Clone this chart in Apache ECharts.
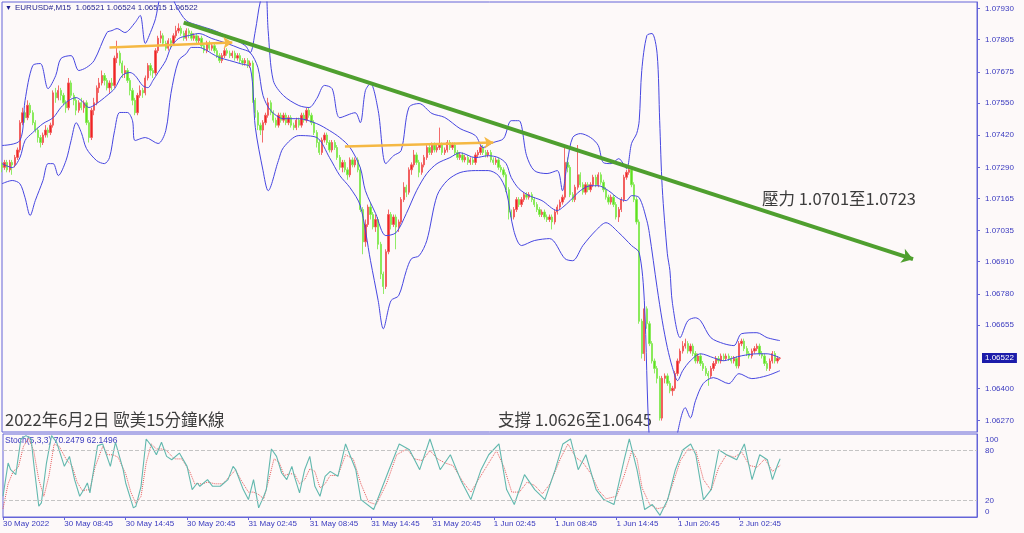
<!DOCTYPE html>
<html><head><meta charset="utf-8">
<script src="https://cdn.jsdelivr.net/npm/echarts/dist/echarts.min.js"></script>
<style>html,body{margin:0;padding:0;background:#fdf9f9}#c{width:1024px;height:533px}</style>
</head><body><div id="c"></div>
<script>
// ---------- data ----------
const symbolName = 'EURUSD#,M15';
const chartTitle = '2022年6月2日 歐美15分鐘K線';
const resistanceText = '壓力 1.0701至1.0723';
const supportText = '支撐 1.0626至1.0645';
const stochLabel = 'Stoch(5,3,3) 70.2479 62.1496';
const xTickLabels = ['30 May 2022','30 May 08:45','30 May 14:45','30 May 20:45','31 May 02:45','31 May 08:45','31 May 14:45','31 May 20:45','1 Jun 02:45','1 Jun 08:45','1 Jun 14:45','1 Jun 20:45','2 Jun 02:45'];
const yTickValues = [1.07930,1.07805,1.07675,1.07550,1.07420,1.07290,1.07165,1.07035,1.06910,1.06780,1.06655,1.06400,1.06270];
const lastPrice = 1.06522;
const stochTickValues = [100,80,20,0];
const stochLevels = [80,20];
// candles: [open, close, low, high]
const candles = [
[1.0730,1.0729,1.0727,1.0731],[1.0729,1.0731,1.0728,1.0732],[1.0731,1.0728,1.0727,1.0732],[1.0728,1.0731,1.0727,1.0732],[1.0731,1.0730,1.0726,1.0732],
[1.0730,1.0733,1.0729,1.0734],[1.0733,1.0736,1.0732,1.0737],[1.0736,1.0747,1.0735,1.0748],[1.0747,1.0751,1.0746,1.0753],[1.0751,1.0749,1.0747,1.0752],
[1.0749,1.0754,1.0748,1.0756],[1.0754,1.0751,1.0750,1.0755],[1.0751,1.0747,1.0746,1.0752],[1.0747,1.0744,1.0743,1.0748],[1.0744,1.0741,1.0739,1.0745],
[1.0741,1.0739,1.0737,1.0742],[1.0739,1.0742,1.0738,1.0743],[1.0742,1.0744,1.0741,1.0746],[1.0744,1.0743,1.0741,1.0745],[1.0743,1.0746,1.0742,1.0747],
[1.0746,1.0759,1.0745,1.0760],[1.0759,1.0757,1.0755,1.0761],[1.0757,1.0760,1.0756,1.0762],[1.0760,1.0758,1.0756,1.0761],[1.0758,1.0755,1.0754,1.0759],
[1.0755,1.0753,1.0751,1.0756],[1.0753,1.0763,1.0752,1.0765],[1.0763,1.0758,1.0757,1.0764],[1.0758,1.0756,1.0754,1.0759],[1.0756,1.0752,1.0750,1.0757],
[1.0752,1.0755,1.0751,1.0756],[1.0755,1.0753,1.0752,1.0757],[1.0753,1.0755,1.0751,1.0756],[1.0755,1.0747,1.0746,1.0756],[1.0747,1.0741,1.0739,1.0748],
[1.0741,1.0752,1.0740,1.0753],[1.0752,1.0755,1.0750,1.0757],[1.0755,1.0761,1.0754,1.0762],[1.0761,1.0763,1.0759,1.0765],[1.0763,1.0766,1.0762,1.0768],
[1.0766,1.0764,1.0762,1.0767],[1.0764,1.0761,1.0760,1.0765],[1.0761,1.0763,1.0759,1.0764],[1.0763,1.0762,1.0760,1.0765],[1.0762,1.0773,1.0761,1.0774],
[1.0773,1.0775,1.0771,1.0780],[1.0775,1.0771,1.0770,1.0776],[1.0771,1.0767,1.0765,1.0772],[1.0767,1.0768,1.0765,1.0770],[1.0768,1.0764,1.0763,1.0769],
[1.0764,1.0760,1.0758,1.0765],[1.0760,1.0756,1.0754,1.0761],[1.0756,1.0751,1.0750,1.0757],[1.0751,1.0758,1.0750,1.0759],[1.0758,1.0760,1.0757,1.0762],
[1.0760,1.0759,1.0757,1.0761],[1.0759,1.0765,1.0758,1.0766],[1.0765,1.0770,1.0764,1.0771],[1.0770,1.0768,1.0766,1.0771],[1.0768,1.0767,1.0765,1.0769],
[1.0767,1.0776,1.0766,1.0777],[1.0776,1.0781,1.0775,1.0782],[1.0781,1.0782,1.0779,1.0784],[1.0782,1.0779,1.0778,1.0783],[1.0779,1.0777,1.0776,1.0780],
[1.0777,1.0780,1.0776,1.0781],[1.0780,1.0779,1.0777,1.0781],[1.0779,1.0782,1.0778,1.0783],[1.0782,1.0784,1.0781,1.0786],[1.0784,1.0785,1.0783,1.0787],
[1.0785,1.0783,1.0782,1.0786],[1.0783,1.0781,1.0780,1.0784],[1.0781,1.0784,1.0780,1.0785],[1.0784,1.0783,1.0781,1.0785],[1.0783,1.0781,1.0780,1.0784],
[1.0781,1.0782,1.0780,1.0783],[1.0782,1.0780,1.0779,1.0783],[1.0780,1.0781,1.0779,1.0782],[1.0781,1.0778,1.0777,1.0782],[1.0778,1.0776,1.0775,1.0779],
[1.0776,1.0779,1.0775,1.0780],[1.0779,1.0777,1.0776,1.0780],[1.0777,1.0778,1.0776,1.0779],[1.0778,1.0776,1.0775,1.0779],[1.0776,1.0774,1.0773,1.0777],
[1.0774,1.0772,1.0771,1.0775],[1.0772,1.0774,1.0771,1.0775],[1.0774,1.0776,1.0773,1.0777],[1.0776,1.0775,1.0774,1.0777],[1.0775,1.0774,1.0773,1.0776],
[1.0774,1.0775,1.0773,1.0776],[1.0775,1.0773,1.0772,1.0776],[1.0773,1.0774,1.0772,1.0775],[1.0774,1.0772,1.0771,1.0775],[1.0772,1.0771,1.0770,1.0773],
[1.0771,1.0772,1.0770,1.0773],[1.0772,1.0770,1.0769,1.0773],[1.0770,1.0771,1.0769,1.0772],[1.0771,1.0756,1.0755,1.0772],[1.0756,1.0751,1.0749,1.0757],
[1.0751,1.0746,1.0744,1.0752],[1.0746,1.0744,1.0742,1.0747],[1.0744,1.0747,1.0739,1.0748],[1.0747,1.0750,1.0746,1.0751],[1.0750,1.0755,1.0749,1.0757],
[1.0755,1.0751,1.0750,1.0756],[1.0751,1.0748,1.0747,1.0752],[1.0748,1.0746,1.0745,1.0749],[1.0746,1.0750,1.0745,1.0751],[1.0750,1.0748,1.0747,1.0751],
[1.0748,1.0750,1.0747,1.0751],[1.0750,1.0747,1.0746,1.0751],[1.0747,1.0749,1.0746,1.0750],[1.0749,1.0746,1.0745,1.0750],[1.0746,1.0745,1.0744,1.0747],
[1.0745,1.0748,1.0744,1.0749],[1.0748,1.0746,1.0745,1.0749],[1.0746,1.0750,1.0745,1.0751],[1.0750,1.0748,1.0747,1.0751],[1.0748,1.0752,1.0747,1.0753],
[1.0752,1.0750,1.0749,1.0753],[1.0750,1.0747,1.0746,1.0751],[1.0747,1.0743,1.0742,1.0748],[1.0743,1.0739,1.0737,1.0744],[1.0739,1.0735,1.0734,1.0740],
[1.0735,1.0740,1.0734,1.0741],[1.0740,1.0742,1.0739,1.0743],[1.0742,1.0739,1.0738,1.0743],[1.0739,1.0736,1.0735,1.0740],[1.0736,1.0739,1.0735,1.0740],
[1.0739,1.0737,1.0736,1.0740],[1.0737,1.0733,1.0732,1.0738],[1.0733,1.0729,1.0728,1.0734],[1.0729,1.0731,1.0727,1.0732],[1.0731,1.0728,1.0727,1.0732],
[1.0728,1.0726,1.0724,1.0729],[1.0726,1.0732,1.0725,1.0733],[1.0732,1.0730,1.0729,1.0733],[1.0730,1.0732,1.0729,1.0733],[1.0732,1.0728,1.0727,1.0733],
[1.0728,1.0712,1.0711,1.0729],[1.0712,1.0699,1.0694,1.0713],[1.0699,1.0706,1.0697,1.0708],[1.0706,1.0713,1.0705,1.0714],[1.0713,1.0710,1.0708,1.0715],
[1.0710,1.0705,1.0704,1.0711],[1.0705,1.0708,1.0703,1.0710],[1.0708,1.0698,1.0696,1.0709],[1.0698,1.0686,1.0684,1.0699],[1.0686,1.0681,1.0678,1.0687],
[1.0681,1.0695,1.0680,1.0696],[1.0695,1.0710,1.0694,1.0712],[1.0710,1.0706,1.0704,1.0711],[1.0706,1.0709,1.0705,1.0710],[1.0709,1.0705,1.0696,1.0710],
[1.0705,1.0707,1.0703,1.0708],[1.0707,1.0716,1.0706,1.0717],[1.0716,1.0721,1.0715,1.0723],[1.0721,1.0719,1.0717,1.0722],[1.0719,1.0728,1.0718,1.0729],
[1.0728,1.0730,1.0726,1.0731],[1.0730,1.0734,1.0729,1.0736],[1.0734,1.0731,1.0730,1.0735],[1.0731,1.0727,1.0725,1.0732],[1.0727,1.0730,1.0726,1.0731],
[1.0730,1.0733,1.0729,1.0734],[1.0733,1.0737,1.0732,1.0738],[1.0737,1.0735,1.0734,1.0738],[1.0735,1.0738,1.0734,1.0739],[1.0738,1.0736,1.0735,1.0739],
[1.0736,1.0737,1.0735,1.0738],[1.0737,1.0738,1.0736,1.0745],[1.0738,1.0735,1.0734,1.0739],[1.0735,1.0736,1.0734,1.0737],[1.0736,1.0739,1.0735,1.0740],
[1.0739,1.0737,1.0736,1.0740],[1.0737,1.0738,1.0736,1.0739],[1.0738,1.0735,1.0734,1.0739],[1.0735,1.0733,1.0732,1.0736],[1.0733,1.0734,1.0732,1.0735],
[1.0734,1.0732,1.0731,1.0735],[1.0732,1.0733,1.0731,1.0734],[1.0733,1.0731,1.0730,1.0734],[1.0731,1.0732,1.0730,1.0733],[1.0732,1.0731,1.0730,1.0733],
[1.0731,1.0734,1.0730,1.0735],[1.0734,1.0735,1.0733,1.0736],[1.0735,1.0737,1.0734,1.0738],[1.0737,1.0735,1.0734,1.0738],[1.0735,1.0734,1.0733,1.0736],
[1.0734,1.0735,1.0733,1.0736],[1.0735,1.0732,1.0731,1.0736],[1.0732,1.0731,1.0730,1.0733],[1.0731,1.0732,1.0730,1.0733],[1.0732,1.0729,1.0728,1.0733],
[1.0729,1.0728,1.0727,1.0730],[1.0728,1.0726,1.0725,1.0729],[1.0726,1.0720,1.0719,1.0727],[1.0720,1.0711,1.0708,1.0721],[1.0711,1.0709,1.0708,1.0712],
[1.0709,1.0712,1.0708,1.0713],[1.0712,1.0716,1.0711,1.0717],[1.0716,1.0714,1.0713,1.0717],[1.0714,1.0716,1.0713,1.0717],[1.0716,1.0718,1.0715,1.0719],
[1.0718,1.0717,1.0716,1.0719],[1.0717,1.0718,1.0716,1.0719],[1.0718,1.0716,1.0715,1.0719],[1.0716,1.0714,1.0713,1.0717],[1.0714,1.0712,1.0711,1.0715],
[1.0712,1.0710,1.0709,1.0713],[1.0710,1.0711,1.0709,1.0712],[1.0711,1.0709,1.0708,1.0712],[1.0709,1.0708,1.0707,1.0710],[1.0708,1.0709,1.0707,1.0710],
[1.0709,1.0707,1.0704,1.0710],[1.0707,1.0711,1.0706,1.0712],[1.0711,1.0713,1.0710,1.0714],[1.0713,1.0715,1.0712,1.0716],[1.0715,1.0717,1.0714,1.0718],
[1.0717,1.0731,1.0716,1.0738],[1.0731,1.0729,1.0727,1.0733],[1.0729,1.0718,1.0717,1.0730],[1.0718,1.0716,1.0715,1.0719],[1.0716,1.0721,1.0715,1.0722],
[1.0721,1.0726,1.0720,1.0738],[1.0726,1.0722,1.0721,1.0727],[1.0722,1.0719,1.0718,1.0723],[1.0719,1.0722,1.0718,1.0723],[1.0722,1.0720,1.0719,1.0723],
[1.0720,1.0722,1.0719,1.0723],[1.0722,1.0725,1.0721,1.0726],[1.0725,1.0722,1.0721,1.0726],[1.0722,1.0726,1.0721,1.0727],[1.0726,1.0723,1.0722,1.0727],
[1.0723,1.0720,1.0719,1.0724],[1.0720,1.0717,1.0716,1.0721],[1.0717,1.0715,1.0714,1.0718],[1.0715,1.0717,1.0714,1.0718],[1.0717,1.0714,1.0713,1.0718],
[1.0714,1.0709,1.0708,1.0715],[1.0709,1.0712,1.0707,1.0713],[1.0712,1.0716,1.0711,1.0717],[1.0716,1.0725,1.0715,1.0726],[1.0725,1.0727,1.0724,1.0728],
[1.0727,1.0728,1.0726,1.0730],[1.0728,1.0722,1.0721,1.0729],[1.0722,1.0716,1.0715,1.0723],[1.0716,1.0707,1.0706,1.0717],[1.0707,1.0667,1.0666,1.0708],
[1.0667,1.0654,1.0652,1.0668],[1.0654,1.0672,1.0651,1.0673],[1.0672,1.0666,1.0664,1.0673],[1.0666,1.0658,1.0657,1.0667],[1.0658,1.0651,1.0650,1.0659],
[1.0651,1.0648,1.0646,1.0652],[1.0648,1.0644,1.0642,1.0649],[1.0644,1.0628,1.0627,1.0645],[1.0628,1.0644,1.0627,1.0645],[1.0644,1.0645,1.0642,1.0646],
[1.0645,1.0642,1.0641,1.0646],[1.0642,1.0639,1.0638,1.0643],[1.0639,1.0640,1.0637,1.0641],[1.0640,1.0646,1.0639,1.0647],[1.0646,1.0651,1.0645,1.0652],
[1.0651,1.0655,1.0650,1.0656],[1.0655,1.0657,1.0654,1.0659],[1.0657,1.0658,1.0656,1.0660],[1.0658,1.0655,1.0654,1.0659],[1.0655,1.0657,1.0654,1.0658],
[1.0657,1.0654,1.0653,1.0658],[1.0654,1.0651,1.0650,1.0655],[1.0651,1.0653,1.0650,1.0654],[1.0653,1.0650,1.0649,1.0654],[1.0650,1.0648,1.0647,1.0651],
[1.0648,1.0646,1.0645,1.0649],[1.0646,1.0645,1.0641,1.0647],[1.0645,1.0648,1.0644,1.0649],[1.0648,1.0650,1.0647,1.0651],[1.0650,1.0652,1.0649,1.0653],
[1.0652,1.0651,1.0650,1.0653],[1.0651,1.0653,1.0650,1.0654],[1.0653,1.0652,1.0651,1.0654],[1.0652,1.0653,1.0651,1.0654],[1.0653,1.0652,1.0651,1.0654],
[1.0652,1.0651,1.0650,1.0653],[1.0651,1.0652,1.0650,1.0653],[1.0652,1.0649,1.0648,1.0653],[1.0649,1.0658,1.0648,1.0659],[1.0658,1.0659,1.0657,1.0660],
[1.0659,1.0656,1.0655,1.0660],[1.0656,1.0654,1.0653,1.0657],[1.0654,1.0653,1.0652,1.0655],[1.0653,1.0655,1.0652,1.0656],[1.0655,1.0656,1.0654,1.0657],
[1.0656,1.0657,1.0655,1.0658],[1.0657,1.0654,1.0653,1.0658],[1.0654,1.0653,1.0652,1.0655],[1.0653,1.0650,1.0649,1.0654],[1.0650,1.0648,1.0647,1.0651],
[1.0648,1.0651,1.0647,1.0652],[1.0651,1.0654,1.0650,1.0655],[1.0654,1.0651,1.0650,1.0655],[1.0651,1.06521,1.0650,1.0653],[1.06521,1.06522,1.06515,1.06524]
];
// Bollinger band readings: [bar index, price]
const bbUpper = [[0,1.07378],[7,1.07398],[9,1.07559],[12,1.0770],[15,1.07708],[18,1.07607],[21,1.0766],[23,1.07728],[27,1.0774],[30,1.0768],[33,1.07692],[36,1.0772],[41,1.07833],[43,1.07841],[45,1.07849],[48,1.07833],[52,1.07873],[54,1.07902],[56,1.07789],[58,1.07833],[60,1.07889],[62,1.0798],[65,1.0800],[68,1.07942],[72,1.07881],[77,1.07861],[83,1.07841],[89,1.07813],[95,1.07781],[97,1.07752],[99,1.0784],[101,1.0796],[103,1.0800],[104,1.07841],[106,1.0764],[110,1.07579],[116,1.07539],[120,1.07531],[123,1.07567],[126,1.0762],[129,1.07607],[132,1.0749],[138,1.0751],[140,1.0747],[142,1.07599],[144,1.07628],[147,1.07519],[150,1.07305],[153,1.07337],[156,1.07358],[159,1.07531],[163,1.07547],[168,1.07507],[173,1.07491],[179,1.07446],[185,1.07418],[188,1.0737],[192,1.0739],[196,1.07406],[199,1.07478],[202,1.07478],[205,1.07337],[208,1.07277],[213,1.07265],[217,1.07277],[219,1.07196],[221,1.07317],[223,1.0741],[226,1.07426],[230,1.0741],[233,1.07378],[235,1.07309],[238,1.07305],[241,1.07325],[244,1.07285],[246,1.07386],[248,1.07426],[249,1.07478],[250,1.0768],[252,1.07821],[254,1.07829],[256,1.07748],[257,1.07478],[258,1.07208],[260,1.06942],[261,1.06874],[262,1.06741],[265,1.06604],[268,1.06672],[271,1.06684],[273,1.06672],[277,1.06604],[282,1.0658],[286,1.06572],[289,1.0662],[295,1.06624],[299,1.06604],[304,1.06592]];
const bbMiddle = [[0,1.07305],[4,1.07289],[7,1.07329],[9,1.07398],[12,1.0743],[16,1.07466],[20,1.0749],[23,1.07531],[26,1.07559],[29,1.07571],[31,1.07559],[34,1.07531],[37,1.07547],[41,1.07579],[44,1.07607],[47,1.0766],[50,1.07672],[52,1.0766],[55,1.07619],[57,1.07611],[59,1.0764],[61,1.07672],[64,1.0772],[66,1.07773],[69,1.07809],[73,1.07821],[77,1.07829],[82,1.07809],[88,1.07789],[93,1.07769],[97,1.07752],[100,1.07692],[102,1.07579],[105,1.07519],[110,1.07486],[116,1.07486],[123,1.07466],[128,1.07438],[132,1.0741],[136,1.0737],[140,1.07289],[142,1.07196],[146,1.07104],[150,1.07015],[154,1.07027],[158,1.07104],[162,1.07196],[166,1.07265],[170,1.07305],[175,1.07329],[179,1.07349],[185,1.07329],[190,1.07337],[194,1.07329],[197,1.07305],[199,1.07249],[202,1.07204],[206,1.07176],[211,1.07156],[217,1.07116],[219,1.07128],[222,1.07156],[226,1.07196],[230,1.07216],[233,1.07216],[237,1.07196],[241,1.07164],[244,1.07156],[246,1.07176],[249,1.07168],[252,1.07075],[253,1.07023],[256,1.06805],[258,1.06672],[260,1.06564],[262,1.06483],[264,1.06431],[266,1.06471],[269,1.06511],[273,1.06539],[278,1.06523],[282,1.06511],[286,1.06523],[289,1.06531],[295,1.06539],[299,1.06539],[304,1.06523]];
const bbLower = [[0,1.07224],[4,1.07237],[7,1.07224],[9,1.07168],[11,1.07096],[13,1.07156],[16,1.07237],[18,1.07305],[20,1.07305],[22,1.07257],[25,1.07317],[27,1.07398],[29,1.0747],[31,1.0743],[33,1.07366],[37,1.07317],[40,1.07305],[42,1.07329],[44,1.07438],[46,1.07511],[49,1.07511],[51,1.07478],[52,1.07398],[56,1.0741],[61,1.07386],[64,1.07438],[66,1.07587],[69,1.0772],[72,1.07748],[74,1.07773],[77,1.07773],[80,1.07761],[82,1.07748],[85,1.07732],[89,1.0772],[93,1.07708],[97,1.07692],[99,1.0745],[102,1.07277],[104,1.07196],[108,1.07317],[110,1.0737],[116,1.07418],[123,1.0741],[128,1.07329],[132,1.07257],[136,1.07208],[140,1.07136],[144,1.06914],[147,1.06753],[149,1.0664],[152,1.06753],[155,1.06773],[158,1.06874],[160,1.06922],[163,1.06934],[166,1.06995],[170,1.07176],[174,1.07237],[179,1.07269],[185,1.07277],[190,1.07277],[194,1.07257],[197,1.07196],[200,1.07035],[203,1.06975],[208,1.06995],[214,1.07003],[220,1.06922],[223,1.06914],[227,1.06975],[232,1.07035],[236,1.07067],[241,1.07027],[246,1.06975],[249,1.06946],[251,1.06753],[253,1.06189],[256,1.0595],[260,1.05987],[264,1.06221],[267,1.06322],[269,1.06281],[271,1.0635],[274,1.06419],[278,1.06443],[284,1.06419],[288,1.06459],[293,1.06439],[299,1.06451],[304,1.06471]];
// Stochastic readings: [bar index, value]
const stochK = [[0,25],[2,65],[3,57],[5,51],[7,94],[9,98],[11,94],[12,65],[14,13],[15,17],[17,65],[19,98],[21,90],[24,61],[26,73],[28,45],[30,25],[32,35],[33,41],[34,29],[37,86],[39,88],[42,61],[44,90],[47,57],[48,41],[51,11],[52,13],[54,37],[56,94],[58,86],[60,75],[62,90],[64,73],[66,69],[69,77],[72,61],[74,33],[76,41],[77,37],[80,45],[82,37],[85,37],[88,45],[90,61],[91,57],[94,33],[96,21],[98,45],[100,11],[102,25],[103,33],[105,82],[107,73],[109,53],[111,45],[113,61],[114,49],[116,29],[118,57],[120,73],[122,37],[124,25],[126,49],[128,55],[131,49],[134,88],[138,57],[140,21],[145,9],[151,57],[155,88],[159,81],[163,57],[167,94],[171,57],[175,75],[179,45],[183,21],[187,57],[190,75],[194,88],[197,33],[200,15],[204,51],[208,33],[212,21],[216,57],[219,88],[222,94],[225,57],[228,75],[232,33],[235,21],[239,15],[243,69],[245,94],[248,57],[251,9],[254,15],[257,2],[260,21],[263,57],[266,81],[269,88],[271,75],[274,21],[277,33],[280,81],[283,75],[287,69],[290,88],[293,45],[296,75],[299,69],[301,45],[303,63],[304,70.2479]];
const stochD = [[0,10],[2,40],[4,55],[6,60],[8,85],[10,95],[12,80],[14,45],[16,25],[18,50],[20,88],[22,85],[25,68],[27,62],[29,42],[31,32],[34,33],[36,60],[39,85],[41,75],[43,75],[45,72],[48,52],[50,30],[52,16],[54,25],[56,65],[58,88],[60,82],[62,82],[64,80],[67,70],[70,70],[73,55],[75,40],[78,40],[80,42],[83,40],[86,40],[89,50],[91,57],[93,45],[96,30],[98,30],[100,27],[102,22],[104,45],[106,70],[108,66],[110,50],[112,52],[114,52],[116,40],[118,45],[120,58],[122,55],[124,35],[126,40],[128,50],[131,50],[134,75],[137,70],[140,40],[143,18],[146,15],[150,40],[154,75],[158,82],[161,70],[164,68],[167,80],[170,70],[173,65],[176,62],[180,42],[183,30],[186,45],[190,65],[193,80],[196,60],[199,30],[202,30],[205,42],[208,38],[211,28],[214,40],[218,70],[221,88],[224,72],[227,65],[230,52],[233,32],[236,22],[240,25],[243,50],[246,80],[248,70],[250,35],[253,15],[256,10],[259,12],[262,40],[265,68],[268,82],[271,80],[274,45],[277,32],[280,60],[283,75],[286,72],[289,78],[292,62],[295,60],[298,70],[301,55],[304,62.1496]];
// drawn annotation lines: [bar index, price]
const trendLine = [[71,1.07873],[356,1.06920]];
const rangeArrow1 = [[42,1.07773],[90,1.07793]];
const rangeArrow2 = [[134,1.07374],[192,1.07390]];

// ---------- categories (15-minute bars) ----------
const months = ['Jan','Feb','Mar','Apr','May','Jun','Jul','Aug','Sep','Oct','Nov','Dec'];
const slotCount = 382;
const categories = [];
for (let i = 0; i < slotCount; i++) {
  const d = new Date(Date.UTC(2022, 4, 30, 2, 45) + i * 900000);
  categories.push(d.getUTCDate() + ' ' + months[d.getUTCMonth()] + ' ' +
    String(d.getUTCHours()).padStart(2, '0') + ':' + String(d.getUTCMinutes()).padStart(2, '0'));
}

const blue = '#3a3abf';
const frame = '#6464d8';
const bandColor = '#4646e0';
const font = '"Liberation Sans", Arial, sans-serif';
const cjk = '"Noto Sans CJK TC", "Noto Sans CJK SC", sans-serif';
const last = candles[candles.length - 1];
const header = symbolName + '  ' + [last[0], last[3], last[2], last[1]].map(v => v.toFixed(5)).join(' ');
const showTick = idx => idx % 24 === 0 && idx / 24 < xTickLabels.length;

const chart = echarts.init(document.getElementById('c'));
chart.setOption({
  animation: false,
  backgroundColor: '#fdf9f9',
  grid: [
    { left: 2, top: 2, width: 975, height: 430, show: true, borderColor: frame, borderWidth: 1, backgroundColor: 'transparent' },
    { left: 2, top: 434, width: 975, height: 83, show: true, borderColor: frame, borderWidth: 1, backgroundColor: 'transparent' }
  ],
  xAxis: [
    { type: 'category', gridIndex: 0, data: categories, boundaryGap: false,
      axisLine: { show: false }, axisTick: { show: false }, axisLabel: { show: false }, splitLine: { show: false } },
    { type: 'category', gridIndex: 1, data: categories, boundaryGap: false,
      axisLine: { show: true, lineStyle: { color: frame } },
      axisTick: { show: true, interval: showTick, length: 3, lineStyle: { color: frame } },
      axisLabel: { interval: showTick, align: 'left', margin: 3, fontSize: 8, fontFamily: font, color: blue,
        formatter: (v, idx) => showTick(idx) ? xTickLabels[idx / 24] : '' },
      splitLine: { show: false } }
  ],
  yAxis: [
    { type: 'value', gridIndex: 0, position: 'right', min: 1.06224, max: 1.07956, scale: true,
      axisLine: { show: true, lineStyle: { color: frame } },
      axisTick: { show: true, length: 3, customValues: yTickValues, lineStyle: { color: frame } },
      axisLabel: { customValues: yTickValues, formatter: v => v.toFixed(5), fontSize: 8, fontFamily: font, color: blue, margin: 8 },
      splitLine: { show: false } },
    { type: 'value', gridIndex: 0, position: 'right', min: 1.06224, max: 1.07956,
      axisLine: { show: false }, axisTick: { show: false }, splitLine: { show: false },
      axisLabel: { customValues: [lastPrice], formatter: v => v.toFixed(5), fontSize: 8, fontFamily: font,
        color: '#ffffff', backgroundColor: '#1c1caa', padding: [1, 3, 1, 3], margin: 5 } },
    { type: 'value', gridIndex: 1, position: 'right', min: 0, max: 100,
      axisLine: { show: true, lineStyle: { color: frame } },
      axisTick: { show: false },
      axisLabel: { customValues: stochTickValues, margin: 8, fontSize: 8, fontFamily: font, color: blue,
        formatter: v => v === 100 ? '{t|100}' : (v === 0 ? '{b|0}' : '{m|' + v + '}'),
        rich: {
          t: { padding: [12, 0, 0, 0], fontSize: 8, fontFamily: font, color: blue },
          b: { padding: [0, 0, 10, 0], fontSize: 8, fontFamily: font, color: blue },
          m: { fontSize: 8, fontFamily: font, color: blue }
        } },
      splitLine: { show: false } }
  ],
  series: [
    { type: 'line', name: 'upper', xAxisIndex: 0, yAxisIndex: 0, data: bbUpper, symbol: 'none', smooth: 0.3,
      lineStyle: { color: bandColor, width: 1 }, silent: true, z: 3 },
    { type: 'line', name: 'lower', xAxisIndex: 0, yAxisIndex: 0, data: bbLower, symbol: 'none', smooth: 0.3,
      lineStyle: { color: bandColor, width: 1 }, silent: true, z: 3 },
    { type: 'candlestick', xAxisIndex: 0, yAxisIndex: 0, data: candles, barWidth: 1.8,
      itemStyle: { color: '#f02424', color0: '#5fe020', borderColor: '#f25a5a', borderColor0: '#86ea56', borderWidth: 0.9 },
      silent: true, z: 2 },
    { type: 'line', name: 'middle', xAxisIndex: 0, yAxisIndex: 0, data: bbMiddle, symbol: 'none', smooth: 0.3,
      lineStyle: { color: bandColor, width: 1 }, silent: true, z: 3,
      markLine: { silent: true, animation: false, label: { show: false }, symbol: ['none', 'arrow'],
        data: [
          [{ coord: trendLine[0], lineStyle: { color: '#4f9f2f', width: 4, type: 'solid' } }, { coord: trendLine[1], symbolSize: 11 }],
          [{ coord: rangeArrow1[0], lineStyle: { color: '#f5b843', width: 2.5, type: 'solid' } }, { coord: rangeArrow1[1], symbolSize: 9 }],
          [{ coord: rangeArrow2[0], lineStyle: { color: '#f5b843', width: 2.5, type: 'solid' } }, { coord: rangeArrow2[1], symbolSize: 9 }]
        ] } },
    { type: 'line', name: 'stochK', xAxisIndex: 1, yAxisIndex: 2, data: stochK, symbol: 'none',
      lineStyle: { color: '#62b8ae', width: 1.1 }, silent: true, z: 4,
      markLine: { silent: true, animation: false, symbol: ['none', 'none'], label: { show: false },
        lineStyle: { color: '#c4c4c4', type: 'dashed', width: 1 },
        data: stochLevels.map(v => ({ yAxis: v })) } },
    { type: 'line', name: 'stochD', xAxisIndex: 1, yAxisIndex: 2, data: stochD, symbol: 'none',
      lineStyle: { color: '#e65a5a', width: 1, type: 'dotted' }, silent: true, z: 3 }
  ],
  graphic: [
    { type: 'text', left: 5, top: 5, style: { text: '▼', font: '7px ' + font, fill: '#1c1c8c' } },
    { type: 'text', left: 15, top: 4, style: { text: header, font: '8px ' + font, fill: '#25258e' } },
    { type: 'text', left: 5, top: 436, style: { text: stochLabel, font: '8.5px ' + font, fill: blue } },
    { type: 'text', left: 762, top: 190, style: { text: resistanceText, font: '16.5px ' + cjk, fill: '#3c3c3c' } },
    { type: 'text', left: 5, top: 411, style: { text: chartTitle, font: '16.5px ' + cjk, fill: '#3c3c3c' } },
    { type: 'text', left: 498, top: 411, style: { text: supportText, font: '16.5px ' + cjk, fill: '#3c3c3c' } }
  ]
});
</script>
</body></html>
